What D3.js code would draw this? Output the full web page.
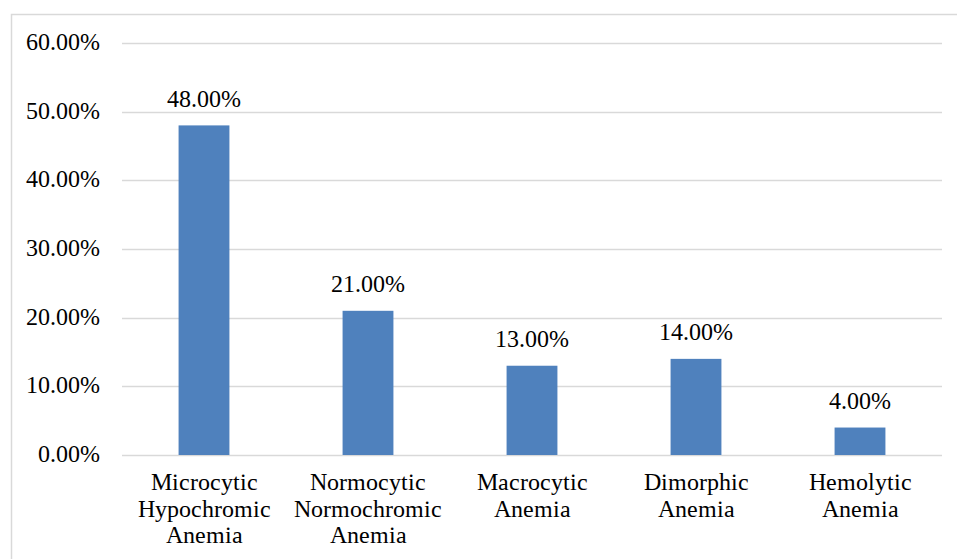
<!DOCTYPE html>
<html>
<head>
<meta charset="utf-8">
<script src="https://cdn.jsdelivr.net/npm/d3@7"></script>
<style>
  @font-face {
    font-family: "ChartSerif";
    src: local("Liberation Serif"), local("LiberationSerif"), local("Tinos"), local("Times New Roman");
  }
  html, body { margin: 0; padding: 0; background: #fff; }
  svg { display: block; }
  svg text, svg tspan { font-family: "ChartSerif", "Liberation Serif", serif !important; }
</style>
</head>
<body>
<svg id="chart" width="957" height="559"></svg>
<script>
// Anemia type distribution (percent of cases)
const categories = [
  ["Microcytic", "Hypochromic", "Anemia"],
  ["Normocytic", "Normochromic", "Anemia"],
  ["Macrocytic", "Anemia"],
  ["Dimorphic", "Anemia"],
  ["Hemolytic", "Anemia"]
];
const values = [48, 21, 13, 14, 4];
const yTicks = [0, 10, 20, 30, 40, 50, 60];

const svg = d3.select("#chart");
const W = 957, H = 559;
const plot = { left: 122, right: 942, top: 43, bottom: 455 };
const fontFamily = "Liberation Serif";
const fontSize = 23.5;

// chart area frame
svg.append("rect")
  .attr("x", 11.5).attr("y", 14.5)
  .attr("width", W + 10).attr("height", H + 10)
  .attr("fill", "none").attr("stroke", "#d9d9d9").attr("stroke-width", 1.5);

const x = d3.scaleBand()
  .domain(d3.range(values.length))
  .range([plot.left, plot.right])
  .paddingInner(0.69).paddingOuter(0.345);

const y = d3.scaleLinear().domain([0, 60]).range([plot.bottom, plot.top]);

// horizontal gridlines
svg.append("g").selectAll("line").data(yTicks).join("line")
  .attr("x1", plot.left).attr("x2", plot.right)
  .attr("y1", d => Math.round(y(d)) + 0.5).attr("y2", d => Math.round(y(d)) + 0.5)
  .attr("stroke", "#d9d9d9").attr("stroke-width", 1.5);

// y axis labels
yTicks.forEach(t => {
  svg.append("text")
    .attr("x", 100).attr("y", y(t) + 7)
    .attr("text-anchor", "end")
    .attr("font-family", fontFamily).attr("font-size", fontSize)
    .text(t.toFixed(2) + "%");
});

// bars
svg.append("g").selectAll("rect").data(values).join("rect")
  .attr("x", (d, i) => x(i))
  .attr("width", x.bandwidth())
  .attr("y", d => y(d))
  .attr("height", d => y(0) - y(d))
  .attr("fill", "#4f81bd");

// value labels
values.forEach((v, i) => {
  svg.append("text")
    .attr("x", x(i) + x.bandwidth() / 2)
    .attr("y", y(v) - 18.5)
    .attr("text-anchor", "middle")
    .attr("font-family", fontFamily).attr("font-size", fontSize)
    .text(v.toFixed(2) + "%");
});

// category labels, one text element per line
categories.forEach((lines, i) => {
  lines.forEach((s, j) => {
    svg.append("text")
      .attr("x", x(i) + x.bandwidth() / 2)
      .attr("y", 490 + j * 26.5)
      .attr("text-anchor", "middle")
      .attr("font-family", fontFamily).attr("font-size", fontSize)
      .text(s);
  });
});
</script>
</body>
</html>
